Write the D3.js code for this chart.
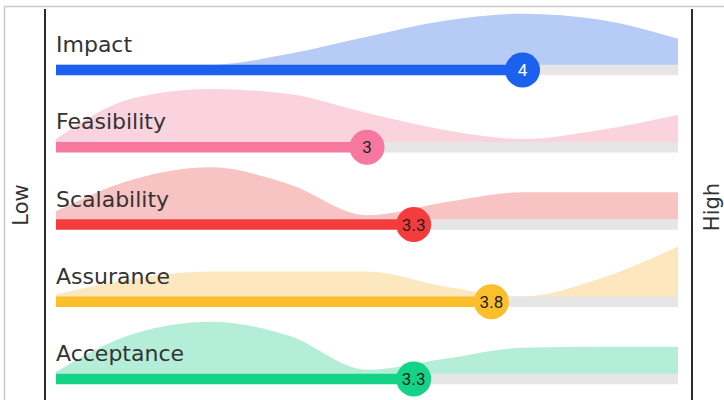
<!DOCTYPE html>
<html>
<head>
<meta charset="utf-8">
<script src="https://cdn.jsdelivr.net/npm/d3@7"></script>
<style>
  html, body { margin: 0; padding: 0; background: #fff; }
  svg { display: block; }
</style>
</head>
<body>
<svg id="chart" width="724" height="400"></svg>
<script>
// ---- data ----
const categories = ["Impact", "Feasibility", "Scalability", "Assurance", "Acceptance"];
const scores = [4, 3, 3.3, 3.8, 3.3];
const densityX = [1, 1.5, 2, 2.5, 3, 3.5, 4, 4.5, 5];
const impactDensity      = [0, 0, 0, 11, 28, 44, 51, 45, 26];
const feasibilityDensity = [3, 44, 53, 48, 29, 12, 3, 12, 27];
const scalabilityDensity = [8, 40, 52, 35, 4, 17, 27, 27, 27];
const assuranceDensity   = [2, 18, 25, 25, 25, 10, 0, 18, 50];
const acceptanceDensity  = [2, 40, 52, 38, 4, 15, 26, 27, 27];
const densities = [impactDensity, feasibilityDensity, scalabilityDensity, assuranceDensity, acceptanceDensity];
const endLabels = ["Low", "High"];

// ---- styles ----
const barColors  = ["#1b61ee", "#f7789f", "#f53c3c", "#fbbf2c", "#14d387"];
const areaColors = ["#b6cbf6", "#fad3de", "#f8c3c3", "#fce7bf", "#b5eed8"];
const numColors  = ["#ffffff", "#1e1e1e", "#1e1e1e", "#1e1e1e", "#1e1e1e"];

const svg = d3.select("#chart");

// outer frame
svg.append("path")
  .attr("d", "M4.5,402 L4.5,6.5 L726,6.5")
  .attr("fill", "none").attr("stroke", "#c9c9c9").attr("stroke-width", 1.5);

const x = d3.scaleLinear().domain([1, 5]).range([56, 678]);
const y = d3.scalePoint().domain(categories).range([70, 379]);
const h = d3.scaleLinear().domain([0, 60]).range([0, 60]);
const barH = 10.5;

// side lines
svg.append("line").attr("x1", 45).attr("x2", 45).attr("y1", 9).attr("y2", 400)
  .attr("stroke", "#2b2b2b").attr("stroke-width", 2);
svg.append("line").attr("x1", 692).attr("x2", 692).attr("y1", 9).attr("y2", 400)
  .attr("stroke", "#2b2b2b").attr("stroke-width", 2);

svg.append("text").text(endLabels[0])
  .attr("transform", "translate(28,205) rotate(-90)")
  .attr("text-anchor", "middle")
  .attr("font-family", "DejaVu Sans").attr("font-size", 21).attr("fill", "#333");
svg.append("text").text(endLabels[1])
  .attr("transform", "translate(719,207) rotate(-90)")
  .attr("text-anchor", "middle")
  .attr("font-family", "DejaVu Sans").attr("font-size", 21).attr("fill", "#333");

categories.forEach((cat, i) => {
  const cy = y(cat);
  const base = cy - barH / 2;
  const g = svg.append("g");
  const pts = densityX.map((v, j) => [v, densities[i][j]]);
  const area = d3.area()
    .x(d => x(d[0]))
    .y0(base + 0.5)
    .y1(d => base - h(d[1]))
    .curve(d3.curveMonotoneX);
  g.append("path").attr("d", area(pts)).attr("fill", areaColors[i]);

  // grey track
  g.append("rect")
    .attr("x", x(scores[i])).attr("y", base)
    .attr("width", x(5) - x(scores[i])).attr("height", barH)
    .attr("fill", "#e6e6e6");
  // bar
  g.append("rect")
    .attr("x", x(1)).attr("y", base)
    .attr("width", x(scores[i]) - x(1)).attr("height", barH)
    .attr("fill", barColors[i]);
  // label
  g.append("text").text(cat)
    .attr("x", x(1)).attr("y", cy - 18)
    .attr("font-family", "DejaVu Sans").attr("font-size", 22)
    .attr("fill", "#333");
  // circle
  g.append("circle")
    .attr("cx", x(scores[i])).attr("cy", cy).attr("r", 17.5)
    .attr("fill", barColors[i]);
  g.append("text").text(scores[i])
    .attr("x", x(scores[i])).attr("y", cy)
    .attr("dy", "0.36em")
    .attr("text-anchor", "middle")
    .attr("font-family", "Roboto").attr("font-weight", 400).attr("font-size", 17)
    .attr("fill", numColors[i]);
});
</script>
</body>
</html>
